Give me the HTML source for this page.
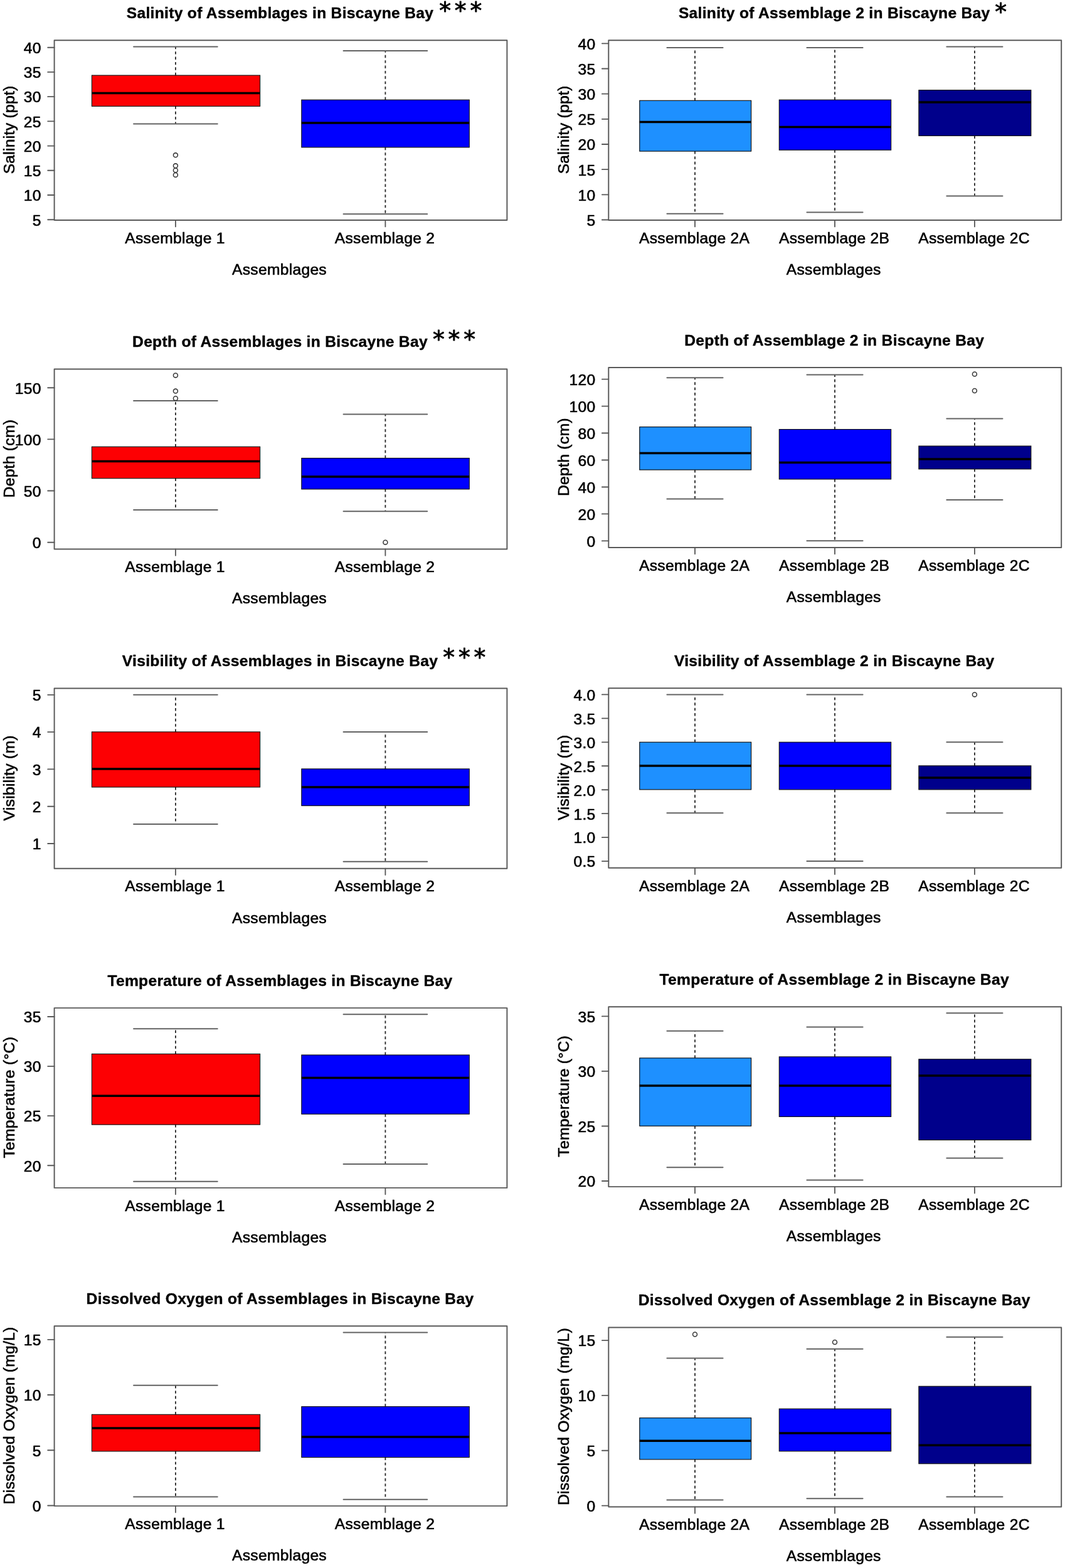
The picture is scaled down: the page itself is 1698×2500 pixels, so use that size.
<!DOCTYPE html>
<html lang="en">
<head>
<meta charset="utf-8">
<title>Environmental variables of fish assemblages in Biscayne Bay</title>
<style>
html,body{margin:0;padding:0;background:#fff}
svg{display:block}
text{font-family:"Liberation Sans",sans-serif;font-size:24.6px;fill:#000;text-anchor:middle;stroke:#000;stroke-width:.62px;stroke-linejoin:round;paint-order:stroke;letter-spacing:.3px}
.y{letter-spacing:.3px}
.e{text-anchor:end}
.h{font-weight:bold;letter-spacing:.31px;stroke-width:.4px}
.s{font-family:"DejaVu Sans",sans-serif;font-size:37.5px;stroke:#000;stroke-width:.9px;letter-spacing:0}
.f{fill:none;stroke:#585858;stroke-width:1.95;stroke-linejoin:round}
.k{fill:none;stroke:#585858;stroke-width:1.85;stroke-linecap:round}
.b{stroke:#101010;stroke-width:1.15}
.m{fill:none;stroke:#000;stroke-width:3.5}
.w{fill:none;stroke:#262626;stroke-width:1.8;stroke-dasharray:4.4 3.97}
.c{fill:none;stroke:#626262;stroke-width:2;stroke-linecap:round}
.o{fill:none;stroke:#3c3c3c;stroke-width:1.6}
</style>
</head>
<body>
<svg width="1698" height="2500" viewBox="0 0 1698 2500">
<rect width="1698" height="2500" fill="#fff"/>
<g>
<path class="w" d="M279.9 120.1V74.6M279.9 169.4V197.5"/>
<path class="c" d="M213.07 74.6H346.73M213.07 197.5H346.73"/>
<rect class="b" x="146.43" y="120.1" width="268.13" height="49.3" fill="#fd0003"/>
<path class="m" d="M146.43 148.5H414.57"/>
<circle class="o" cx="279.9" cy="247.3" r="3.45"/>
<circle class="o" cx="279.9" cy="264.3" r="3.45"/>
<circle class="o" cx="279.9" cy="271.5" r="3.45"/>
<circle class="o" cx="279.9" cy="278.9" r="3.45"/>
<path class="w" d="M614.4 159.2V80.9M614.4 234.9V341.2"/>
<path class="c" d="M547.57 80.9H681.23M547.57 341.2H681.23"/>
<rect class="b" x="480.83" y="159.2" width="267.43" height="75.7" fill="#0000ff"/>
<path class="m" d="M480.83 196H748.27"/>
<rect class="f" x="86.6" y="64.3" width="721.8" height="286.8"/>
<text class="t e" x="65.8" y="359.55">5</text>
<text class="t e" x="65.8" y="320.34">10</text>
<text class="t e" x="65.8" y="281.12">15</text>
<text class="t e" x="65.8" y="241.91">20</text>
<text class="t e" x="65.8" y="202.69">25</text>
<text class="t e" x="65.8" y="163.48">30</text>
<text class="t e" x="65.8" y="124.26">35</text>
<text class="t e" x="65.8" y="85.05">40</text>
<path class="k" d="M86.6 350.2H76.2M86.6 310.99H76.2M86.6 271.77H76.2M86.6 232.56H76.2M86.6 193.34H76.2M86.6 154.13H76.2M86.6 114.91H76.2M86.6 75.7H76.2M279.9 351.1V361.4M614.4 351.1V361.4"/>
<text class="t" x="279" y="387.8">Assemblage 1</text>
<text class="t" x="613.5" y="387.8">Assemblage 2</text>
<text class="t" x="445.5" y="437.9">Assemblages</text>
<text class="t y" transform="translate(23 206.9) rotate(-90)">Salinity (ppt)</text>
<text class="t h" x="446.5" y="29.1">Salinity of Assemblages in Biscayne Bay</text>
<text class="s" x="709.5 734.2 758.8" y="30.2">***</text>
</g>
<g>
<path class="w" d="M1108 160.3V75.9M1108 241.1V340.8"/>
<path class="c" d="M1063.44 75.9H1152.56M1063.44 340.8H1152.56"/>
<rect class="b" x="1019.78" y="160.3" width="177.85" height="80.8" fill="#1e90ff"/>
<path class="m" d="M1019.78 194.6H1197.62"/>
<path class="w" d="M1331 159.2V75.9M1331 239.2V338.5"/>
<path class="c" d="M1286.44 75.9H1375.56M1286.44 338.5H1375.56"/>
<rect class="b" x="1242.33" y="159.2" width="178.3" height="80" fill="#0000ff"/>
<path class="m" d="M1242.33 202.4H1420.62"/>
<path class="w" d="M1553.9 143.7V74.6M1553.9 216.5V312.4"/>
<path class="c" d="M1509.34 74.6H1598.46M1509.34 312.4H1598.46"/>
<rect class="b" x="1464.88" y="143.7" width="178.95" height="72.8" fill="#00008b"/>
<path class="m" d="M1464.88 163.1H1643.82"/>
<rect class="f" x="970.3" y="64.3" width="721.9" height="286.8"/>
<text class="t e" x="949.5" y="359.85">5</text>
<text class="t e" x="949.5" y="319.68">10</text>
<text class="t e" x="949.5" y="279.51">15</text>
<text class="t e" x="949.5" y="239.34">20</text>
<text class="t e" x="949.5" y="199.16">25</text>
<text class="t e" x="949.5" y="158.99">30</text>
<text class="t e" x="949.5" y="118.82">35</text>
<text class="t e" x="949.5" y="78.65">40</text>
<path class="k" d="M970.3 350.5H959.9M970.3 310.33H959.9M970.3 270.16H959.9M970.3 229.99H959.9M970.3 189.81H959.9M970.3 149.64H959.9M970.3 109.47H959.9M970.3 69.3H959.9M1108 351.1V361.4M1331 351.1V361.4M1553.9 351.1V361.4"/>
<text class="t" x="1107.1" y="387.8">Assemblage 2A</text>
<text class="t" x="1330.1" y="387.8">Assemblage 2B</text>
<text class="t" x="1553" y="387.8">Assemblage 2C</text>
<text class="t" x="1329.25" y="437.9">Assemblages</text>
<text class="t y" transform="translate(906.7 206.9) rotate(-90)">Salinity (ppt)</text>
<text class="t h" x="1330.25" y="29.1">Salinity of Assemblage 2 in Biscayne Bay</text>
<text class="s" x="1595.5" y="32">*</text>
</g>
<g>
<path class="w" d="M279.9 712.3V639.1M279.9 762.7V813"/>
<path class="c" d="M213.07 639.1H346.73M213.07 813H346.73"/>
<rect class="b" x="146.43" y="712.3" width="268.13" height="50.4" fill="#fd0003"/>
<path class="m" d="M146.43 735.5H414.57"/>
<circle class="o" cx="279.9" cy="598.4" r="3.45"/>
<circle class="o" cx="279.9" cy="623.6" r="3.45"/>
<circle class="o" cx="279.9" cy="635.2" r="3.45"/>
<path class="w" d="M614.4 730.5V660.4M614.4 779.9V815.3"/>
<path class="c" d="M547.57 660.4H681.23M547.57 815.3H681.23"/>
<rect class="b" x="480.83" y="730.5" width="267.43" height="49.4" fill="#0000ff"/>
<path class="m" d="M480.83 760.1H748.27"/>
<circle class="o" cx="614.4" cy="864.7" r="3.45"/>
<rect class="f" x="86.6" y="588.4" width="721.8" height="287"/>
<text class="t e" x="65.8" y="874.05">0</text>
<text class="t e" x="65.8" y="791.88">50</text>
<text class="t e" x="65.8" y="709.72">100</text>
<text class="t e" x="65.8" y="627.55">150</text>
<path class="k" d="M86.6 864.7H76.2M86.6 782.53H76.2M86.6 700.37H76.2M86.6 618.2H76.2M279.9 875.4V885.7M614.4 875.4V885.7"/>
<text class="t" x="279" y="912.1">Assemblage 1</text>
<text class="t" x="613.5" y="912.1">Assemblage 2</text>
<text class="t" x="445.5" y="962.2">Assemblages</text>
<text class="t y" transform="translate(23 731.1) rotate(-90)">Depth (cm)</text>
<text class="t h" x="446.5" y="553.2">Depth of Assemblages in Biscayne Bay</text>
<text class="s" x="699.3 723.9 748.5" y="553.6">***</text>
</g>
<g>
<path class="w" d="M1108 680.7V602.3M1108 749.1V795.6"/>
<path class="c" d="M1063.44 602.3H1152.56M1063.44 795.6H1152.56"/>
<rect class="b" x="1019.78" y="680.7" width="177.85" height="68.4" fill="#1e90ff"/>
<path class="m" d="M1019.78 722.4H1197.62"/>
<path class="w" d="M1331 684.6V597.5M1331 764V862.2"/>
<path class="c" d="M1286.44 597.5H1375.56M1286.44 862.2H1375.56"/>
<rect class="b" x="1242.33" y="684.6" width="178.3" height="79.4" fill="#0000ff"/>
<path class="m" d="M1242.33 737.5H1420.62"/>
<path class="w" d="M1553.9 711.1V667.6M1553.9 747.9V797.1"/>
<path class="c" d="M1509.34 667.6H1598.46M1509.34 797.1H1598.46"/>
<rect class="b" x="1464.88" y="711.1" width="178.95" height="36.8" fill="#00008b"/>
<path class="m" d="M1464.88 732.1H1643.82"/>
<circle class="o" cx="1553.9" cy="596.5" r="3.45"/>
<circle class="o" cx="1553.9" cy="623" r="3.45"/>
<rect class="f" x="970.3" y="585.9" width="721.9" height="287.1"/>
<text class="t e" x="949.5" y="871.75">0</text>
<text class="t e" x="949.5" y="828.78">20</text>
<text class="t e" x="949.5" y="785.82">40</text>
<text class="t e" x="949.5" y="742.85">60</text>
<text class="t e" x="949.5" y="699.88">80</text>
<text class="t e" x="949.5" y="656.92">100</text>
<text class="t e" x="949.5" y="613.95">120</text>
<path class="k" d="M970.3 862.4H959.9M970.3 819.43H959.9M970.3 776.47H959.9M970.3 733.5H959.9M970.3 690.53H959.9M970.3 647.57H959.9M970.3 604.6H959.9M1108 873V883.3M1331 873V883.3M1553.9 873V883.3"/>
<text class="t" x="1107.1" y="909.7">Assemblage 2A</text>
<text class="t" x="1330.1" y="909.7">Assemblage 2B</text>
<text class="t" x="1553" y="909.7">Assemblage 2C</text>
<text class="t" x="1329.25" y="959.8">Assemblages</text>
<text class="t y" transform="translate(906.7 728.65) rotate(-90)">Depth (cm)</text>
<text class="t h" x="1330.25" y="550.7">Depth of Assemblage 2 in Biscayne Bay</text>
</g>
<g>
<path class="w" d="M279.9 1166.9V1107.8M279.9 1255V1314"/>
<path class="c" d="M213.07 1107.8H346.73M213.07 1314H346.73"/>
<rect class="b" x="146.43" y="1166.9" width="268.13" height="88.1" fill="#fd0003"/>
<path class="m" d="M146.43 1225.9H414.57"/>
<path class="w" d="M614.4 1225.9V1166.9M614.4 1284.6V1373.7"/>
<path class="c" d="M547.57 1166.9H681.23M547.57 1373.7H681.23"/>
<rect class="b" x="480.83" y="1225.9" width="267.43" height="58.7" fill="#0000ff"/>
<path class="m" d="M480.83 1255H748.27"/>
<rect class="f" x="86.6" y="1097.5" width="721.8" height="287.2"/>
<text class="t e" x="65.8" y="1354.35">1</text>
<text class="t e" x="65.8" y="1295.05">2</text>
<text class="t e" x="65.8" y="1235.75">3</text>
<text class="t e" x="65.8" y="1176.45">4</text>
<text class="t e" x="65.8" y="1117.15">5</text>
<path class="k" d="M86.6 1345H76.2M86.6 1285.7H76.2M86.6 1226.4H76.2M86.6 1167.1H76.2M86.6 1107.8H76.2M279.9 1384.7V1395M614.4 1384.7V1395"/>
<text class="t" x="279" y="1421.4">Assemblage 1</text>
<text class="t" x="613.5" y="1421.4">Assemblage 2</text>
<text class="t" x="445.5" y="1471.5">Assemblages</text>
<text class="t y" transform="translate(23 1240.3) rotate(-90)">Visibility (m)</text>
<text class="t h" x="446.5" y="1062.3">Visibility of Assemblages in Biscayne Bay</text>
<text class="s" x="715.5 740.3 764.9" y="1061.2">***</text>
</g>
<g>
<path class="w" d="M1108 1183.3V1107.4M1108 1258.9V1296.2"/>
<path class="c" d="M1063.44 1107.4H1152.56M1063.44 1296.2H1152.56"/>
<rect class="b" x="1019.78" y="1183.3" width="177.85" height="75.6" fill="#1e90ff"/>
<path class="m" d="M1019.78 1220.9H1197.62"/>
<path class="w" d="M1331 1183.3V1107.4M1331 1258.9V1373.1"/>
<path class="c" d="M1286.44 1107.4H1375.56M1286.44 1373.1H1375.56"/>
<rect class="b" x="1242.33" y="1183.3" width="178.3" height="75.6" fill="#0000ff"/>
<path class="m" d="M1242.33 1220.9H1420.62"/>
<path class="w" d="M1553.9 1220.9V1183.3M1553.9 1258.9V1296.2"/>
<path class="c" d="M1509.34 1183.3H1598.46M1509.34 1296.2H1598.46"/>
<rect class="b" x="1464.88" y="1220.9" width="178.95" height="38" fill="#00008b"/>
<path class="m" d="M1464.88 1239.9H1643.82"/>
<circle class="o" cx="1553.9" cy="1107.4" r="3.45"/>
<rect class="f" x="970.3" y="1097.2" width="721.9" height="286.6"/>
<text class="t e" x="949.5" y="1382.45">0.5</text>
<text class="t e" x="949.5" y="1344.49">1.0</text>
<text class="t e" x="949.5" y="1306.54">1.5</text>
<text class="t e" x="949.5" y="1268.58">2.0</text>
<text class="t e" x="949.5" y="1230.62">2.5</text>
<text class="t e" x="949.5" y="1192.66">3.0</text>
<text class="t e" x="949.5" y="1154.71">3.5</text>
<text class="t e" x="949.5" y="1116.75">4.0</text>
<path class="k" d="M970.3 1373.1H959.9M970.3 1335.14H959.9M970.3 1297.19H959.9M970.3 1259.23H959.9M970.3 1221.27H959.9M970.3 1183.31H959.9M970.3 1145.36H959.9M970.3 1107.4H959.9M1108 1383.8V1394.1M1331 1383.8V1394.1M1553.9 1383.8V1394.1"/>
<text class="t" x="1107.1" y="1420.5">Assemblage 2A</text>
<text class="t" x="1330.1" y="1420.5">Assemblage 2B</text>
<text class="t" x="1553" y="1420.5">Assemblage 2C</text>
<text class="t" x="1329.25" y="1470.6">Assemblages</text>
<text class="t y" transform="translate(906.7 1239.7) rotate(-90)">Visibility (m)</text>
<text class="t h" x="1330.25" y="1062">Visibility of Assemblage 2 in Biscayne Bay</text>
</g>
<g>
<path class="w" d="M279.9 1680.4V1640.3M279.9 1793.1V1883.8"/>
<path class="c" d="M213.07 1640.3H346.73M213.07 1883.8H346.73"/>
<rect class="b" x="146.43" y="1680.4" width="268.13" height="112.7" fill="#fd0003"/>
<path class="m" d="M146.43 1747.2H414.57"/>
<path class="w" d="M614.4 1682V1617.2M614.4 1776.3V1855.9"/>
<path class="c" d="M547.57 1617.2H681.23M547.57 1855.9H681.23"/>
<rect class="b" x="480.83" y="1682" width="267.43" height="94.3" fill="#0000ff"/>
<path class="m" d="M480.83 1718.4H748.27"/>
<rect class="f" x="86.6" y="1607.1" width="721.8" height="286.8"/>
<text class="t e" x="65.8" y="1867.55">20</text>
<text class="t e" x="65.8" y="1788.48">25</text>
<text class="t e" x="65.8" y="1709.42">30</text>
<text class="t e" x="65.8" y="1630.35">35</text>
<path class="k" d="M86.6 1858.2H76.2M86.6 1779.13H76.2M86.6 1700.07H76.2M86.6 1621H76.2M279.9 1893.9V1904.2M614.4 1893.9V1904.2"/>
<text class="t" x="279" y="1930.6">Assemblage 1</text>
<text class="t" x="613.5" y="1930.6">Assemblage 2</text>
<text class="t" x="445.5" y="1980.7">Assemblages</text>
<text class="t y" transform="translate(23 1749.7) rotate(-90)">Temperature (°C)</text>
<text class="t h" x="446.5" y="1571.9">Temperature of Assemblages in Biscayne Bay</text>
</g>
<g>
<path class="w" d="M1108 1686.9V1643.7M1108 1795.3V1861.2"/>
<path class="c" d="M1063.44 1643.7H1152.56M1063.44 1861.2H1152.56"/>
<rect class="b" x="1019.78" y="1686.9" width="177.85" height="108.4" fill="#1e90ff"/>
<path class="m" d="M1019.78 1731H1197.62"/>
<path class="w" d="M1331 1684.9V1637.5M1331 1780.4V1881.5"/>
<path class="c" d="M1286.44 1637.5H1375.56M1286.44 1881.5H1375.56"/>
<rect class="b" x="1242.33" y="1684.9" width="178.3" height="95.5" fill="#0000ff"/>
<path class="m" d="M1242.33 1731H1420.62"/>
<path class="w" d="M1553.9 1688.8V1615.2M1553.9 1817.6V1846.6"/>
<path class="c" d="M1509.34 1615.2H1598.46M1509.34 1846.6H1598.46"/>
<rect class="b" x="1464.88" y="1688.8" width="178.95" height="128.8" fill="#00008b"/>
<path class="m" d="M1464.88 1714.9H1643.82"/>
<rect class="f" x="970.3" y="1605.2" width="721.9" height="286.9"/>
<text class="t e" x="949.5" y="1892.35">20</text>
<text class="t e" x="949.5" y="1804.82">25</text>
<text class="t e" x="949.5" y="1717.28">30</text>
<text class="t e" x="949.5" y="1629.75">35</text>
<path class="k" d="M970.3 1883H959.9M970.3 1795.47H959.9M970.3 1707.93H959.9M970.3 1620.4H959.9M1108 1892.1V1902.4M1331 1892.1V1902.4M1553.9 1892.1V1902.4"/>
<text class="t" x="1107.1" y="1928.8">Assemblage 2A</text>
<text class="t" x="1330.1" y="1928.8">Assemblage 2B</text>
<text class="t" x="1553" y="1928.8">Assemblage 2C</text>
<text class="t" x="1329.25" y="1978.9">Assemblages</text>
<text class="t y" transform="translate(906.7 1747.85) rotate(-90)">Temperature (°C)</text>
<text class="t h" x="1330.25" y="1570">Temperature of Assemblage 2 in Biscayne Bay</text>
</g>
<g>
<path class="w" d="M279.9 2255.3V2208.8M279.9 2313.9V2386.6"/>
<path class="c" d="M213.07 2208.8H346.73M213.07 2386.6H346.73"/>
<rect class="b" x="146.43" y="2255.3" width="268.13" height="58.6" fill="#fd0003"/>
<path class="m" d="M146.43 2277H414.57"/>
<path class="w" d="M614.4 2242.7V2124.6M614.4 2323.6V2390.8"/>
<path class="c" d="M547.57 2124.6H681.23M547.57 2390.8H681.23"/>
<rect class="b" x="480.83" y="2242.7" width="267.43" height="80.9" fill="#0000ff"/>
<path class="m" d="M480.83 2291.1H748.27"/>
<rect class="f" x="86.6" y="2114.3" width="721.8" height="286.8"/>
<text class="t e" x="65.8" y="2409.85">0</text>
<text class="t e" x="65.8" y="2321.62">5</text>
<text class="t e" x="65.8" y="2233.38">10</text>
<text class="t e" x="65.8" y="2145.15">15</text>
<path class="k" d="M86.6 2400.5H76.2M86.6 2312.27H76.2M86.6 2224.03H76.2M86.6 2135.8H76.2M279.9 2401.1V2411.4M614.4 2401.1V2411.4"/>
<text class="t" x="279" y="2437.8">Assemblage 1</text>
<text class="t" x="613.5" y="2437.8">Assemblage 2</text>
<text class="t" x="445.5" y="2487.9">Assemblages</text>
<text class="t y" transform="translate(23 2256.9) rotate(-90)">Dissolved Oxygen (mg/L)</text>
<text class="t h" x="446.5" y="2079.1">Dissolved Oxygen of Assemblages in Biscayne Bay</text>
</g>
<g>
<path class="w" d="M1108 2260.7V2165.6M1108 2326.9V2391.4"/>
<path class="c" d="M1063.44 2165.6H1152.56M1063.44 2391.4H1152.56"/>
<rect class="b" x="1019.78" y="2260.7" width="177.85" height="66.2" fill="#1e90ff"/>
<path class="m" d="M1019.78 2297.3H1197.62"/>
<circle class="o" cx="1108" cy="2127.5" r="3.45"/>
<path class="w" d="M1331 2246.2V2150.7M1331 2313.8V2389.3"/>
<path class="c" d="M1286.44 2150.7H1375.56M1286.44 2389.3H1375.56"/>
<rect class="b" x="1242.33" y="2246.2" width="178.3" height="67.6" fill="#0000ff"/>
<path class="m" d="M1242.33 2284.9H1420.62"/>
<circle class="o" cx="1331" cy="2140" r="3.45"/>
<path class="w" d="M1553.9 2210.3V2131.7M1553.9 2333.7V2386.4"/>
<path class="c" d="M1509.34 2131.7H1598.46M1509.34 2386.4H1598.46"/>
<rect class="b" x="1464.88" y="2210.3" width="178.95" height="123.4" fill="#00008b"/>
<path class="m" d="M1464.88 2304.3H1643.82"/>
<rect class="f" x="970.3" y="2116.4" width="721.9" height="286"/>
<text class="t e" x="949.5" y="2409.95">0</text>
<text class="t e" x="949.5" y="2322.12">5</text>
<text class="t e" x="949.5" y="2234.28">10</text>
<text class="t e" x="949.5" y="2146.45">15</text>
<path class="k" d="M970.3 2400.6H959.9M970.3 2312.77H959.9M970.3 2224.93H959.9M970.3 2137.1H959.9M1108 2402.4V2412.7M1331 2402.4V2412.7M1553.9 2402.4V2412.7"/>
<text class="t" x="1107.1" y="2439.1">Assemblage 2A</text>
<text class="t" x="1330.1" y="2439.1">Assemblage 2B</text>
<text class="t" x="1553" y="2439.1">Assemblage 2C</text>
<text class="t" x="1329.25" y="2489.2">Assemblages</text>
<text class="t y" transform="translate(906.7 2258.6) rotate(-90)">Dissolved Oxygen (mg/L)</text>
<text class="t h" x="1330.25" y="2081.2">Dissolved Oxygen of Assemblage 2 in Biscayne Bay</text>
</g>
</svg>
</body>
</html>
